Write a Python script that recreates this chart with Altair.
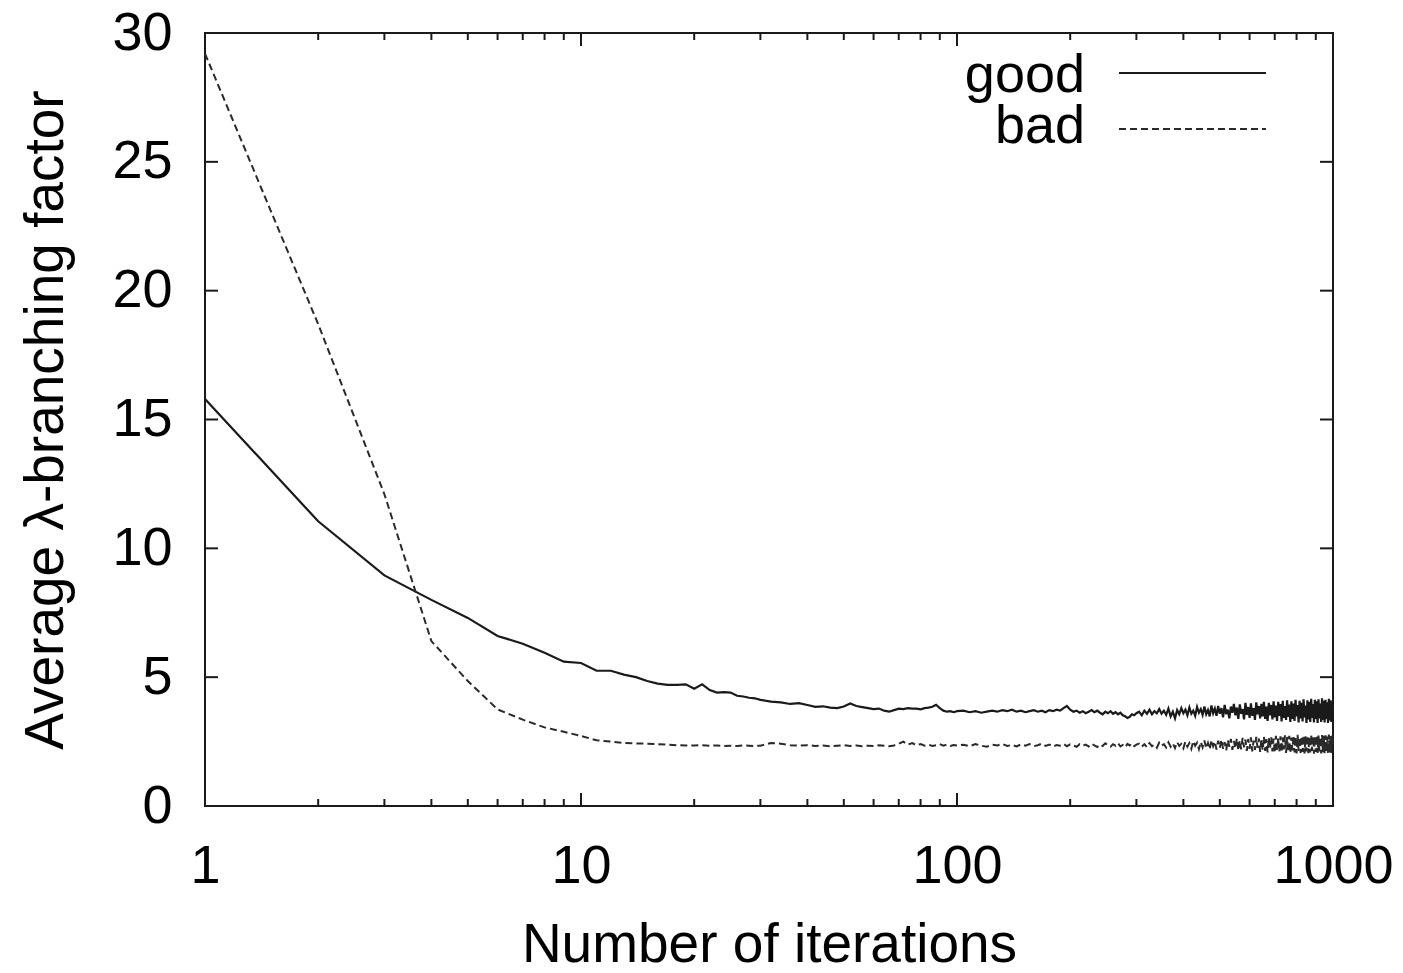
import altair as alt
import pandas as pd

# ---------------- data ----------------
x_seg1 = list(range(1, 31))
x_seg2 = list(range(32, 101, 2))
x_seg3 = list(range(104, 301, 4))
x_seg4 = list(range(305, 1001, 5))
iterations = x_seg1 + x_seg2 + x_seg3 + x_seg4

good_seg1 = [15.8, 11.05, 8.95, 8.0, 7.3, 6.6, 6.3, 5.95, 5.6, 5.55,
             5.25, 5.25, 5.1, 5.0, 4.85, 4.75, 4.7, 4.7, 4.72, 4.55,
             4.72, 4.5, 4.4, 4.42, 4.4, 4.28, 4.25, 4.2, 4.18, 4.12]
good_seg2 = [4.05, 4.02, 3.96, 3.99, 3.92, 3.85, 3.87, 3.82, 3.8, 3.86,
             3.98, 3.88, 3.84, 3.8, 3.76, 3.78, 3.7, 3.66, 3.72, 3.78,
             3.76, 3.8, 3.78, 3.78, 3.75, 3.8, 3.82, 3.85, 3.93, 3.8,
             3.7, 3.66, 3.68, 3.64, 3.68]
good_seg3 = [3.70, 3.64, 3.68, 3.62, 3.66, 3.70, 3.66, 3.72, 3.68, 3.74,
             3.66, 3.70, 3.64, 3.68, 3.72, 3.66, 3.70, 3.64, 3.72, 3.68,
             3.74, 3.70, 3.80, 3.88, 3.74, 3.66, 3.70, 3.62, 3.68, 3.60,
             3.66, 3.72, 3.64, 3.70, 3.62, 3.56, 3.66, 3.60, 3.68, 3.58,
             3.64, 3.56, 3.62, 3.52, 3.48, 3.42, 3.46, 3.56, 3.52, 3.60]
good_seg4 = [3.66, 3.52, 3.70, 3.58, 3.74, 3.56, 3.68, 3.60, 3.76, 3.58,
             3.70, 3.54, 3.78, 3.48, 3.66, 3.40, 3.72, 3.56, 3.80, 3.60,
             3.74, 3.52, 3.82, 3.58, 3.70, 3.50, 3.84, 3.62, 3.76, 3.54,
             3.86, 3.56, 3.72, 3.48, 3.90, 3.60, 3.78, 3.50, 3.88, 3.58,
             3.80, 3.44, 3.92, 3.56, 3.74, 3.40, 3.86, 3.62, 3.96, 3.52,
             3.82, 3.38, 3.94, 3.58, 3.76, 3.36, 4.00, 3.54, 3.84, 3.42,
             3.98, 3.50, 3.80, 3.34, 4.02, 3.56, 3.88, 3.40, 3.96, 3.48,
             4.04, 3.38, 3.86, 3.30, 4.00, 3.52, 3.92, 3.36, 4.06, 3.44,
             3.90, 3.30, 4.04, 3.50, 3.96, 3.28, 4.08, 3.42, 3.88, 3.34,
             4.10, 3.46, 3.94, 3.26, 4.06, 3.38, 3.98, 3.30, 4.12, 3.48,
             3.92, 3.24, 4.08, 3.40, 4.00, 3.28, 4.14, 3.44, 3.90, 3.22,
             4.10, 3.36, 4.04, 3.26, 4.16, 3.42, 3.96, 3.24, 4.12, 3.38,
             4.06, 3.22, 4.14, 3.40, 3.98, 3.26, 4.18, 3.34, 4.08, 3.24,
             4.12, 3.38, 4.02, 3.22, 4.16, 3.32, 4.10, 3.26, 4.06, 3.60]

bad_seg1 = [29.2, 18.7, 12.1, 6.4, 4.85, 3.75, 3.35, 3.05, 2.88, 2.72,
            2.55, 2.5, 2.45, 2.43, 2.42, 2.4, 2.38, 2.36, 2.35, 2.35,
            2.36, 2.34, 2.35, 2.33, 2.34, 2.33, 2.35, 2.34, 2.33, 2.34]
bad_seg2 = [2.44, 2.42, 2.36, 2.34, 2.36, 2.33, 2.35, 2.32, 2.34, 2.36,
            2.33, 2.35, 2.32, 2.34, 2.33, 2.36, 2.34, 2.32, 2.35, 2.42,
            2.50, 2.38, 2.44, 2.36, 2.40, 2.34, 2.38, 2.33, 2.36, 2.40,
            2.34, 2.38, 2.33, 2.37, 2.35]
bad_seg3 = [2.38, 2.32, 2.40, 2.34, 2.30, 2.38, 2.35, 2.41, 2.33, 2.37,
            2.31, 2.39, 2.34, 2.40, 2.32, 2.36, 2.42, 2.33, 2.38, 2.30,
            2.37, 2.34, 2.41, 2.32, 2.39, 2.35, 2.30, 2.40, 2.34, 2.38,
            2.31, 2.42, 2.35, 2.29, 2.39, 2.33, 2.43, 2.36, 2.30, 2.40,
            2.34, 2.44, 2.31, 2.37, 2.28, 2.41, 2.35, 2.43, 2.32, 2.38]
bad_seg4 = [2.42, 2.30, 2.40, 2.28, 2.44, 2.32, 2.38, 2.26, 2.46, 2.34,
            2.40, 2.27, 2.47, 2.30, 2.43, 2.25, 2.48, 2.33, 2.41, 2.24,
            2.50, 2.30, 2.44, 2.22, 2.52, 2.34, 2.46, 2.21, 2.49, 2.28,
            2.54, 2.24, 2.45, 2.20, 2.56, 2.32, 2.50, 2.19, 2.53, 2.26,
            2.58, 2.22, 2.48, 2.16, 2.56, 2.30, 2.60, 2.18, 2.52, 2.24,
            2.62, 2.15, 2.55, 2.20, 2.64, 2.28, 2.58, 2.14, 2.60, 2.22,
            2.66, 2.12, 2.54, 2.18, 2.68, 2.26, 2.62, 2.10, 2.58, 2.16,
            2.70, 2.14, 2.60, 2.08, 2.66, 2.24, 2.68, 2.12, 2.62, 2.06,
            2.72, 2.18, 2.64, 2.10, 2.70, 2.08, 2.66, 2.20, 2.74, 2.06,
            2.68, 2.12, 2.72, 2.05, 2.66, 2.16, 2.74, 2.08, 2.70, 2.04,
            2.76, 2.14, 2.68, 2.06, 2.72, 2.10, 2.75, 2.04, 2.70, 2.12,
            2.74, 2.05, 2.68, 2.08, 2.76, 2.14, 2.72, 2.03, 2.70, 2.10,
            2.75, 2.06, 2.73, 2.12, 2.68, 2.04, 2.76, 2.09, 2.72, 2.05,
            2.74, 2.10, 2.70, 2.03, 2.77, 2.08, 2.71, 2.06, 2.73, 2.38]

good_values = good_seg1 + good_seg2 + good_seg3 + good_seg4
bad_values = bad_seg1 + bad_seg2 + bad_seg3 + bad_seg4

series_names = ["good", "bad"]
x_major_ticks = [1, 10, 100, 1000]
x_minor_ticks = [2, 3, 4, 5, 6, 7, 8, 9, 20, 30, 40, 50, 60, 70, 80, 90,
                 200, 300, 400, 500, 600, 700, 800, 900]
y_ticks = [0, 5, 10, 15, 20, 25, 30]

# ---------------- layout ----------------
W, H = 1128, 773
FONT = "Liberation Sans"
INK = "#1a1a1a"

good_df = pd.DataFrame({"x": iterations, "y": good_values})
bad_df = pd.DataFrame({"x": iterations, "y": bad_values})
xmaj_df = pd.DataFrame({"x": x_major_ticks})
xmin_df = pd.DataFrame({"x": x_minor_ticks})
y_df = pd.DataFrame({"y": y_ticks})

xscale = alt.Scale(type="log", domain=[1, 1000], nice=False)
yscale = alt.Scale(domain=[0, 30], nice=False, zero=False)

x_axis = alt.Axis(
    values=x_major_ticks, format="d", title="Number of iterations",
    domain=False, ticks=False, tickSize=0, grid=False,
    labelFont=FONT, labelFontSize=54, labelColor="black", labelPadding=33,
    labelFlush=False,
    titleFont=FONT, titleFontSize=55, titleFontWeight="normal", titleColor="black",
    titleBaseline="alphabetic", titleY=155, titleX=W / 2, titleAlign="center",
)
y_axis = alt.Axis(
    values=y_ticks, format="d", title="Average λ-branching factor",
    domain=False, ticks=False, tickSize=0, grid=False,
    labelFont=FONT, labelFontSize=54, labelColor="black", labelPadding=33,
    labelFlush=False,
    titleFont=FONT, titleFontSize=55, titleFontWeight="normal", titleColor="black",
    titleBaseline="alphabetic", titleAngle=270, titleX=-143, titleY=H / 2,
    titleAlign="center",
)

X = lambda: alt.X("x:Q", scale=xscale, axis=x_axis)
Y = lambda: alt.Y("y:Q", scale=yscale, axis=y_axis)

good_line = alt.Chart(good_df).mark_line(color=INK, strokeWidth=2.2).encode(x=X(), y=Y())
bad_line = alt.Chart(bad_df).mark_line(
    color="#2a2a2a", strokeWidth=2, strokeDash=[7, 4]
).encode(x=X(), y=Y())

tick_style = dict(color=INK, strokeWidth=2)


def xticks(df, length):
    bottom = alt.Chart(df).mark_rule(**tick_style).encode(
        x=X(), y=alt.value(H), y2=alt.value(H - length),
    )
    top = alt.Chart(df).mark_rule(**tick_style).encode(
        x=X(), y=alt.value(0), y2=alt.value(length),
    )
    return [bottom, top]


ytick_left = alt.Chart(y_df).mark_rule(**tick_style).encode(
    y=Y(), x=alt.value(0), x2=alt.value(13),
)
ytick_right = alt.Chart(y_df).mark_rule(**tick_style).encode(
    y=Y(), x=alt.value(W - 13), x2=alt.value(W),
)

# ---------------- key (gnuplot style: text left of sample) ----------------
def key_text(name, ypix):
    return alt.Chart(pd.DataFrame({"s": [name]})).mark_text(
        font=FONT, fontSize=54, align="right", baseline="alphabetic", color="black"
    ).encode(text="s:N", x=alt.value(880), y=alt.value(ypix))


key_good_line = alt.Chart(pd.DataFrame({"s": [series_names[0]]})).mark_rule(
    color=INK, strokeWidth=2.2
).encode(x=alt.value(914), x2=alt.value(1061), y=alt.value(40))
key_bad_line = alt.Chart(pd.DataFrame({"s": [series_names[1]]})).mark_rule(
    color="#2a2a2a", strokeWidth=2, strokeDash=[7, 4]
).encode(x=alt.value(914), x2=alt.value(1061), y=alt.value(96))

chart = alt.layer(
    good_line, bad_line,
    *xticks(xmaj_df, 13), *xticks(xmin_df, 7),
    ytick_left, ytick_right,
    key_text(series_names[0], 59), key_text(series_names[1], 110),
    key_good_line, key_bad_line,
).properties(
    width=W, height=H,
    autosize=alt.AutoSizeParams(type="none"),
    padding={"left": 197, "top": 25, "right": 62, "bottom": 157},
    background="white",
).configure_view(
    stroke=INK, strokeWidth=2
)

chart.save("out.html", embed_options={"renderer": "svg", "actions": False})
